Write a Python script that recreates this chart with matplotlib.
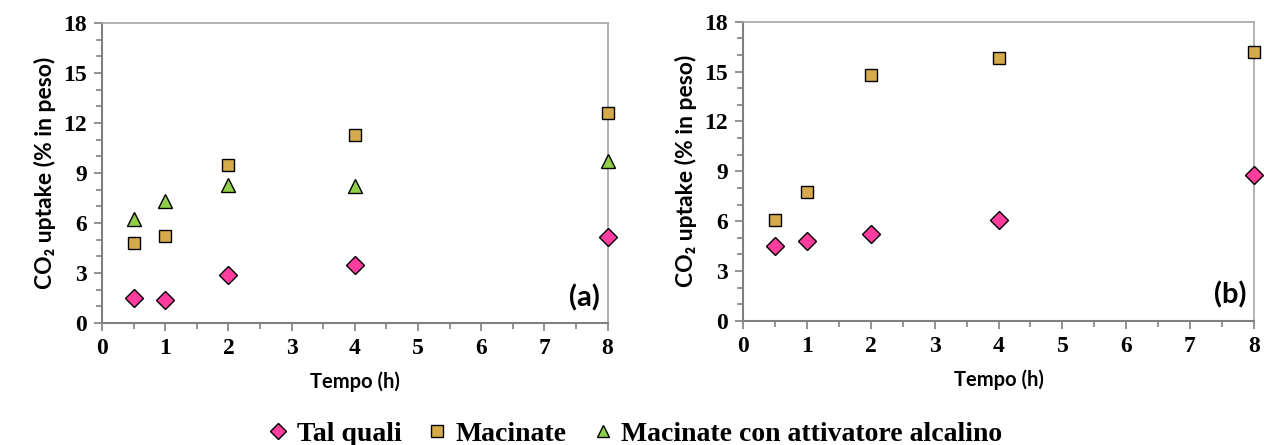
import matplotlib
matplotlib.use("Agg")
import matplotlib.pyplot as plt
from matplotlib.ticker import MultipleLocator
from matplotlib.lines import Line2D

# data
tempo = [0.5, 1, 2, 4, 8]
tal_quali_a = [1.5, 1.4, 2.9, 3.5, 5.15]
macinate_a = [4.8, 5.2, 9.5, 11.3, 12.6]
alcalino_a = [6.25, 7.35, 8.3, 8.2, 9.7]
tal_quali_b = [4.5, 4.8, 5.2, 6.1, 8.8]
macinate_b = [6.05, 7.75, 14.8, 15.8, 16.2]

labels = ["Tal quali", "Macinate", "Macinate con attivatore alcalino"]
pink = "#FF3D9E"
gold = "#D4AA4A"
green = "#8FCF4A"

sans = ["Lato", "DejaVu Sans"]
serif = "Liberation Serif"

plt.rcParams["font.family"] = serif
plt.rcParams["font.weight"] = "bold"


def style_axes(ax, tag):
    ax.set_xlim(0, 8)
    ax.set_ylim(0, 18)
    ax.xaxis.set_major_locator(MultipleLocator(1))
    ax.xaxis.set_minor_locator(MultipleLocator(0.5))
    ax.yaxis.set_major_locator(MultipleLocator(3))
    ax.yaxis.set_minor_locator(MultipleLocator(1))
    ax.tick_params(which="both", direction="out", color="#808080", width=1.2)
    ax.tick_params(which="major", length=6, labelsize=17, pad=5)
    ax.tick_params(which="minor", length=4)
    for s in ["left", "bottom"]:
        ax.spines[s].set_color("#808080")
        ax.spines[s].set_linewidth(1.5)
    for s in ["top", "right"]:
        ax.spines[s].set_color("#A6A6A6")
        ax.spines[s].set_linewidth(1.2)
    ax.set_xlabel("Tempo (h)", fontsize=14.5, fontweight="bold", family=sans, labelpad=9)
    ax.set_ylabel("CO₂ uptake (% in peso)", fontsize=16.5, fontweight="bold", family=sans, labelpad=5)
    ax.text(0.985, 0.04, tag, transform=ax.transAxes, ha="right", va="bottom",
            fontsize=21, fontweight="bold", family=sans)


fig = plt.figure(figsize=(12.64, 4.45), dpi=100)
ax1 = fig.add_axes([0.0807, 0.274, 0.400, 0.674])
ax2 = fig.add_axes([0.588, 0.279, 0.404, 0.672])

mk = dict(linestyle="none", markeredgecolor="black", markeredgewidth=1.0, clip_on=False, zorder=3)

ax1.plot(tempo, tal_quali_a, marker="D", markersize=9, color=pink, **mk)
ax1.plot(tempo, macinate_a, marker="s", markersize=9, color=gold, **mk)
ax1.plot(tempo, alcalino_a, marker="^", markersize=10, color=green, **mk)
style_axes(ax1, "(a)")

ax2.plot(tempo, tal_quali_b, marker="D", markersize=9, color=pink, **mk)
ax2.plot(tempo, macinate_b, marker="s", markersize=9, color=gold, **mk)
style_axes(ax2, "(b)")

handles = [
    Line2D([], [], marker="D", markersize=8, color=pink, linestyle="none", markeredgecolor="black"),
    Line2D([], [], marker="s", markersize=8, color=gold, linestyle="none", markeredgecolor="black"),
    Line2D([], [], marker="^", markersize=9, color=green, linestyle="none", markeredgecolor="black"),
]
fig.legend(handles, labels, loc="lower center", bbox_to_anchor=(0.502, -0.06), ncol=3,
           frameon=False, handlelength=0.8, handletextpad=0.25, columnspacing=0.9,
           prop={"family": serif, "weight": "bold", "size": 20})

fig.savefig("out.png", dpi=100)
